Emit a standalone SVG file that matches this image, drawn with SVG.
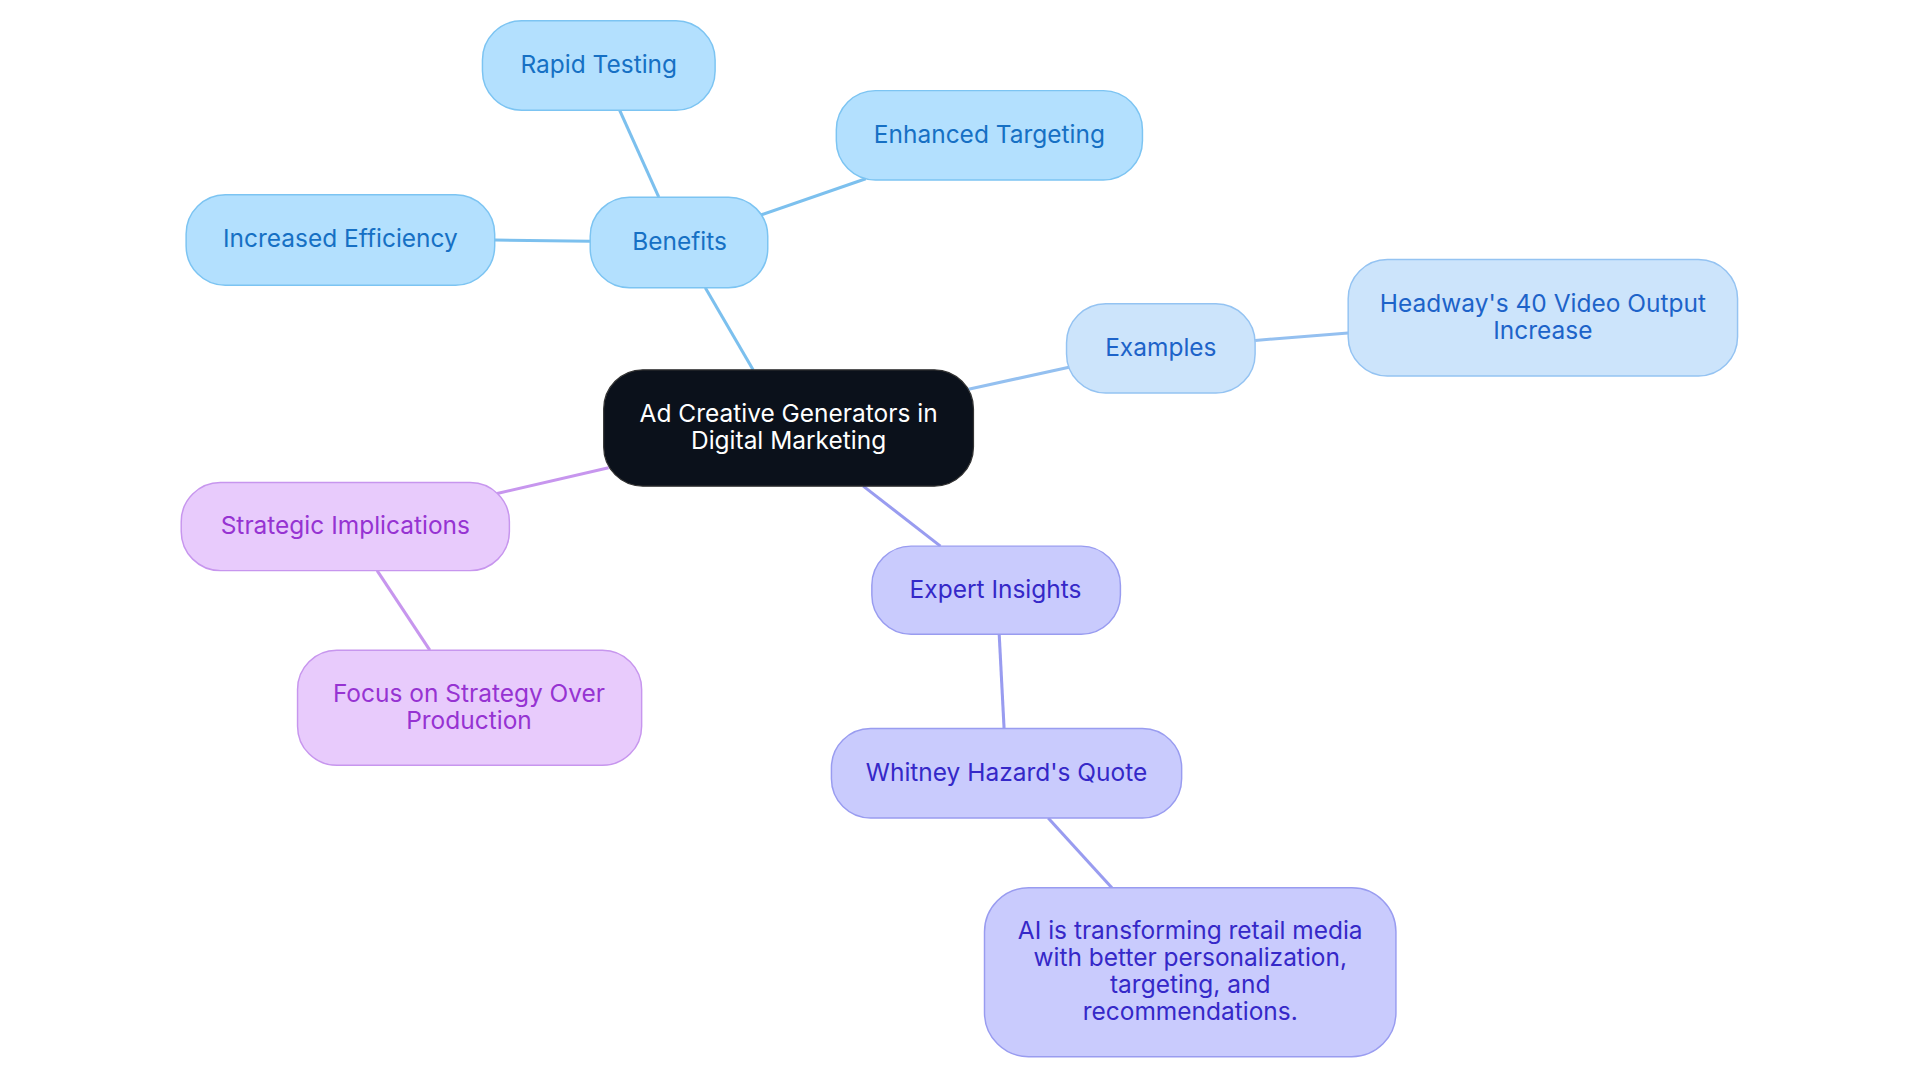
<svg xmlns="http://www.w3.org/2000/svg" width="1920" height="1083" viewBox="0 0 1920 1083">
<style>
text{font-family:Inter,"Noto Sans",sans-serif;font-size:20px;text-anchor:middle}
.b rect{fill:#b3e0fe;stroke:#7cc4f2;stroke-width:1.2}.b text{fill:#1670c4}
.e rect{fill:#cce4fb;stroke:#94c3f2;stroke-width:1.2}.e text{fill:#1d63c9}
.s rect{fill:#e8cbfc;stroke:#c796ee;stroke-width:1.2}.s text{fill:#9633d2}
.x rect{fill:#c9cbfd;stroke:#999cf0;stroke-width:1.2}.x text{fill:#3528c8}
#connectors line{stroke-width:2.5;fill:none}
</style>
<rect width="1920" height="1083" fill="#fff"/>
<g transform="scale(1.2245)">
<g id="connectors">
<line x1="615" y1="302" x2="576" y2="235" stroke="#7cc0ee"/>
<line x1="538" y1="161" x2="506" y2="90" stroke="#7cc0ee"/>
<line x1="620" y1="176" x2="707" y2="146" stroke="#7cc0ee"/>
<line x1="482" y1="197" x2="404" y2="196" stroke="#7cc0ee"/>
<line x1="790" y1="318" x2="873" y2="300" stroke="#94c0f0"/>
<line x1="1025" y1="278" x2="1101" y2="272" stroke="#94c0f0"/>
<line x1="497" y1="382" x2="406" y2="403" stroke="#c796ee"/>
<line x1="308" y1="466" x2="351" y2="531" stroke="#c796ee"/>
<line x1="705" y1="397" x2="768" y2="446" stroke="#999cf0"/>
<line x1="816" y1="518" x2="820" y2="595" stroke="#999cf0"/>
<line x1="856" y1="668" x2="908" y2="725" stroke="#999cf0"/>
</g>
<g id="center"><rect x="493" y="302" width="302" height="95" rx="32" fill="#0b111b" stroke="#333"/><text fill="#fff" x="644" y="345">Ad Creative Generators in</text><text fill="#fff" x="644" y="367">Digital Marketing</text></g>
<g id="benefits" class="b"><rect x="482" y="161" width="145" height="74" rx="32"/><text x="555" y="204">Benefits</text></g>
<g id="rapid" class="b"><rect x="394" y="17" width="190" height="73" rx="32"/><text x="489" y="60">Rapid Testing</text></g>
<g id="targeting" class="b"><rect x="683" y="74" width="250" height="73" rx="32"/><text x="808" y="117">Enhanced Targeting</text></g>
<g id="efficiency" class="b"><rect x="152" y="159" width="252" height="74" rx="32"/><text x="278" y="202">Increased Efficiency</text></g>
<g id="examples" class="e"><rect x="871" y="248" width="154" height="73" rx="32"/><text x="948" y="291">Examples</text></g>
<g id="headway" class="e"><rect x="1101" y="212" width="318" height="95" rx="32"/><text x="1260" y="255">Headway's 40 Video Output</text><text x="1260" y="277">Increase</text></g>
<g id="strategic" class="s"><rect x="148" y="394" width="268" height="72" rx="32"/><text x="282" y="436">Strategic Implications</text></g>
<g id="focus" class="s"><rect x="243" y="531" width="281" height="94" rx="32"/><text x="383" y="573">Focus on Strategy Over</text><text x="383" y="595">Production</text></g>
<g id="expert" class="x"><rect x="712" y="446" width="203" height="72" rx="32"/><text x="813" y="488">Expert Insights</text></g>
<g id="whitney" class="x"><rect x="679" y="595" width="286" height="73" rx="32"/><text x="822" y="638">Whitney Hazard's Quote</text></g>
<g id="ai" class="x"><rect x="804" y="725" width="336" height="138" rx="36"/><text x="972" y="767">AI is transforming retail media</text><text x="972" y="789">with better personalization,</text><text x="972" y="811">targeting, and</text><text x="972" y="833">recommendations.</text></g>
</g>
</svg>
